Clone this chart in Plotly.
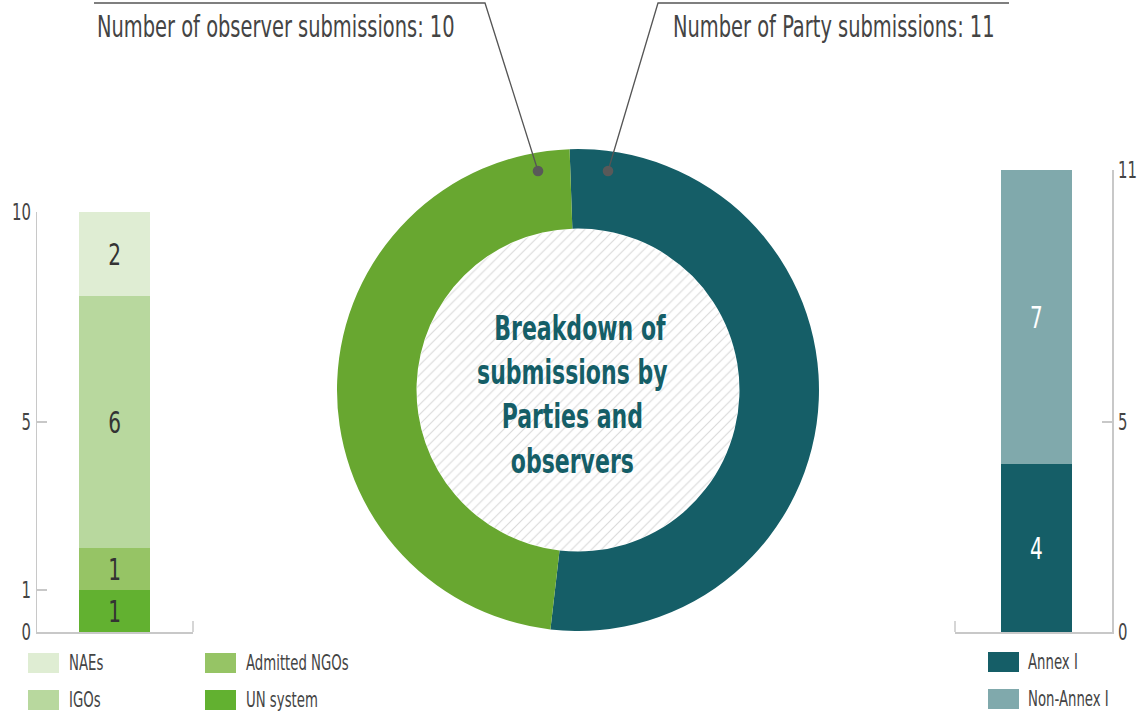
import plotly.graph_objects as go
import numpy as np

W, H = 1143, 718
FONT = "DejaVu Sans Condensed, DejaVu Sans, sans-serif"
SQUEEZE = 0.72  # horizontal condensing of all texts (mimics a narrow typeface)

# ---- data ----
obs_categories = ["UN system", "Admitted NGOs", "IGOs", "NAEs"]
obs_values = [1, 1, 6, 2]
obs_colors = ["#62B130", "#96C465", "#B8D89E", "#DFEDD3"]

party_categories = ["Annex I", "Non-Annex I"]
party_values = [4, 7]
party_colors = ["#155E67", "#80A9AC"]

donut_labels = ["Party submissions", "Observer submissions"]
donut_values = [sum(party_values), sum(obs_values)]
donut_colors = ["#155E67", "#68A730"]

obs_ticks = [0, 1, 5, 10]
party_ticks = [0, 5, 11]

center_title = "&nbsp;&nbsp;Breakdown of<br>submissions by<br>Parties and<br>observers"
obs_note = f"Number of observer submissions: {donut_values[1]}"
party_note = f"Number of Party submissions: {donut_values[0]}"


def px(x):
    return x / W


def py(y):
    return 1 - y / H


fig = go.Figure()

# left stacked bar (observers)
for name, v, c in zip(obs_categories, obs_values, obs_colors):
    fig.add_trace(go.Bar(
        x=[0], y=[v], name=name, marker=dict(color=c, line=dict(width=0)),
        width=0.455, text=[str(v)], textposition="inside",
        insidetextanchor="middle", constraintext="none", textangle=0,
        textfont=dict(family=FONT, size=31, color="#333333"),
        xaxis="x", yaxis="y", hoverinfo="skip"))

# right stacked bar (Parties)
for name, v, c in zip(party_categories, party_values, party_colors):
    fig.add_trace(go.Bar(
        x=[0], y=[v], name=name, marker=dict(color=c, line=dict(width=0)),
        width=0.452, text=[str(v)], textposition="inside",
        insidetextanchor="middle", constraintext="none", textangle=0,
        textfont=dict(family=FONT, size=31, color="#ffffff"),
        xaxis="x2", yaxis="y2", hoverinfo="skip"))

# hatched disc inside donut hole
t = np.linspace(0, 2 * np.pi, 240)
fig.add_trace(go.Scatter(
    x=np.cos(t), y=np.sin(t), mode="lines", fill="toself",
    line=dict(width=0, color="rgba(0,0,0,0)"),
    fillpattern=dict(shape="/", fgcolor="#d9d9d9", bgcolor="#ffffff",
                     size=7, solidity=0.15),
    xaxis="x3", yaxis="y3", hoverinfo="skip"))

# donut
fig.add_trace(go.Pie(
    labels=donut_labels, values=donut_values, hole=0.67, sort=False,
    direction="clockwise", rotation=-2,
    marker=dict(colors=donut_colors, line=dict(width=0)),
    textinfo="none", hoverinfo="skip",
    domain=dict(x=[px(337), px(819)], y=[py(631), py(149)])))

axis_line = "#c8c8c8"
tickfont = dict(family=FONT, size=23, color="#444444")

fig.update_layout(
    template="none",
    width=W, height=H, margin=dict(l=0, r=0, t=0, b=0, pad=0, autoexpand=False),
    paper_bgcolor="white", plot_bgcolor="white",
    showlegend=False, barmode="stack",
    xaxis=dict(domain=[px(37), px(193)], range=[-0.497, 0.503], automargin=False,
               showline=True, linecolor=axis_line, linewidth=1.5,
               showticklabels=False, ticks="", showgrid=False, zeroline=False,
               fixedrange=True),
    yaxis=dict(domain=[py(632), py(212)], range=[0, 10], anchor="x", automargin=False,
               showline=True, linecolor=axis_line, linewidth=1.5,
               ticks="inside", ticklen=10, tickcolor=axis_line, tickwidth=1.5,
               tickvals=obs_ticks, tickfont=tickfont, showgrid=False,
               zeroline=False, fixedrange=True),
    xaxis2=dict(domain=[px(955), px(1112)], range=[-0.519, 0.481], automargin=False,
                anchor="y2", showline=True, linecolor=axis_line, linewidth=1.5,
                showticklabels=False, ticks="", showgrid=False, zeroline=False,
                fixedrange=True),
    yaxis2=dict(domain=[py(632), py(170)], range=[0, 11], anchor="x2", automargin=False,
                side="right", showline=True, linecolor=axis_line, linewidth=1.5,
                ticks="inside", ticklen=10, tickcolor=axis_line, tickwidth=1.5,
                tickvals=party_ticks, tickfont=tickfont, showgrid=False,
                zeroline=False, fixedrange=True),
    xaxis3=dict(domain=[px(578 - 161), px(578 + 161)], range=[-1, 1], automargin=False,
                anchor="y3", visible=False, fixedrange=True),
    yaxis3=dict(domain=[py(390 + 161), py(390 - 161)], range=[-1, 1], automargin=False,
                anchor="x3", visible=False, fixedrange=True),
)

shapes = []
line_col = "#555555"
# end ticks on baselines
shapes.append(dict(type="line", xref="paper", yref="paper", x0=px(193), x1=px(193),
                   y0=py(632), y1=py(621), line=dict(color=axis_line, width=1.5)))
shapes.append(dict(type="line", xref="paper", yref="paper", x0=px(955), x1=px(955),
                   y0=py(632), y1=py(621), line=dict(color=axis_line, width=1.5)))
# leader lines
shapes.append(dict(type="path", xref="paper", yref="paper",
                   path=f"M {px(94)},{py(3)} L {px(485)},{py(3)} L {px(538)},{py(171)}",
                   line=dict(color=line_col, width=1.3)))
shapes.append(dict(type="path", xref="paper", yref="paper",
                   path=f"M {px(1009)},{py(3)} L {px(658)},{py(3)} L {px(608)},{py(171)}",
                   line=dict(color=line_col, width=1.3)))
for cx in (538, 608):
    shapes.append(dict(type="circle", xref="paper", yref="paper",
                       x0=px(cx - 5.3), x1=px(cx + 5.3), y0=py(171 + 5.3), y1=py(171 - 5.3),
                       fillcolor="#595959", line=dict(width=0)))

annotations = [
    dict(text=obs_note, x=px(95), y=py(27), xref="paper", yref="paper",
         xanchor="left", yanchor="middle", align="left", showarrow=False,
         font=dict(family=FONT, size=30, color="#444444")),
    dict(text=party_note, x=px(671), y=py(27), xref="paper", yref="paper",
         xanchor="left", yanchor="middle", align="left", showarrow=False,
         font=dict(family=FONT, size=30, color="#444444")),
    dict(text="<b>" + center_title + "</b>", x=px(572), y=py(394), xref="paper",
         yref="paper", xanchor="center", yanchor="middle", align="center",
         showarrow=False, font=dict(family=FONT, size=34, color="#155E67")),
]

# legends
legend_font = dict(family=FONT, size=20.5, color="#444444")
obs_legend_order = ["NAEs", "IGOs", "Admitted NGOs", "UN system"]
obs_legend_pos = [(28, 653), (28, 690), (205, 653), (205, 690)]
for name, (lx, ly) in zip(obs_legend_order, obs_legend_pos):
    col = obs_colors[obs_categories.index(name)]
    shapes.append(dict(type="rect", xref="paper", yref="paper",
                       x0=px(lx), x1=px(lx + 31), y0=py(ly + 20), y1=py(ly),
                       fillcolor=col, line=dict(width=0)))
    annotations.append(dict(text=name, x=px(lx + 39), y=py(ly + 10), xref="paper",
                            yref="paper", xanchor="left", yanchor="middle",
                            align="left", showarrow=False, font=legend_font))
party_legend_pos = [(988, 652), (988, 689)]
for name, col, (lx, ly) in zip(party_categories, party_colors, party_legend_pos):
    shapes.append(dict(type="rect", xref="paper", yref="paper",
                       x0=px(lx), x1=px(lx + 31), y0=py(ly + 20), y1=py(ly),
                       fillcolor=col, line=dict(width=0)))
    annotations.append(dict(text=name, x=px(lx + 38), y=py(ly + 10), xref="paper",
                            yref="paper", xanchor="left", yanchor="middle",
                            align="left", showarrow=False, font=legend_font))

fig.update_layout(shapes=shapes, annotations=annotations)

post_js = """
document.body.style.margin = '0';
document.body.style.overflow = 'hidden';
var gd = document.getElementById('{plot_id}');
var F = %s;
function squeezeText() {
  gd.querySelectorAll('text').forEach(function (t) {
    var lines = t.querySelectorAll('tspan.line');
    var els = lines.length ? Array.prototype.slice.call(lines) : [t];
    els.forEach(function (e) {
      if (e.getAttribute('data-sq')) { return; }
      var L = e.getComputedTextLength();
      if (L > 0) {
        e.setAttribute('textLength', (L * F).toFixed(2));
        e.setAttribute('lengthAdjust', 'spacingAndGlyphs');
        e.setAttribute('data-sq', '1');
      }
    });
  });
}
squeezeText();
gd.on('plotly_afterplot', squeezeText);
""" % SQUEEZE

fig.write_html("out.html", post_script=post_js,
               config=dict(displayModeBar=False, staticPlot=True))
